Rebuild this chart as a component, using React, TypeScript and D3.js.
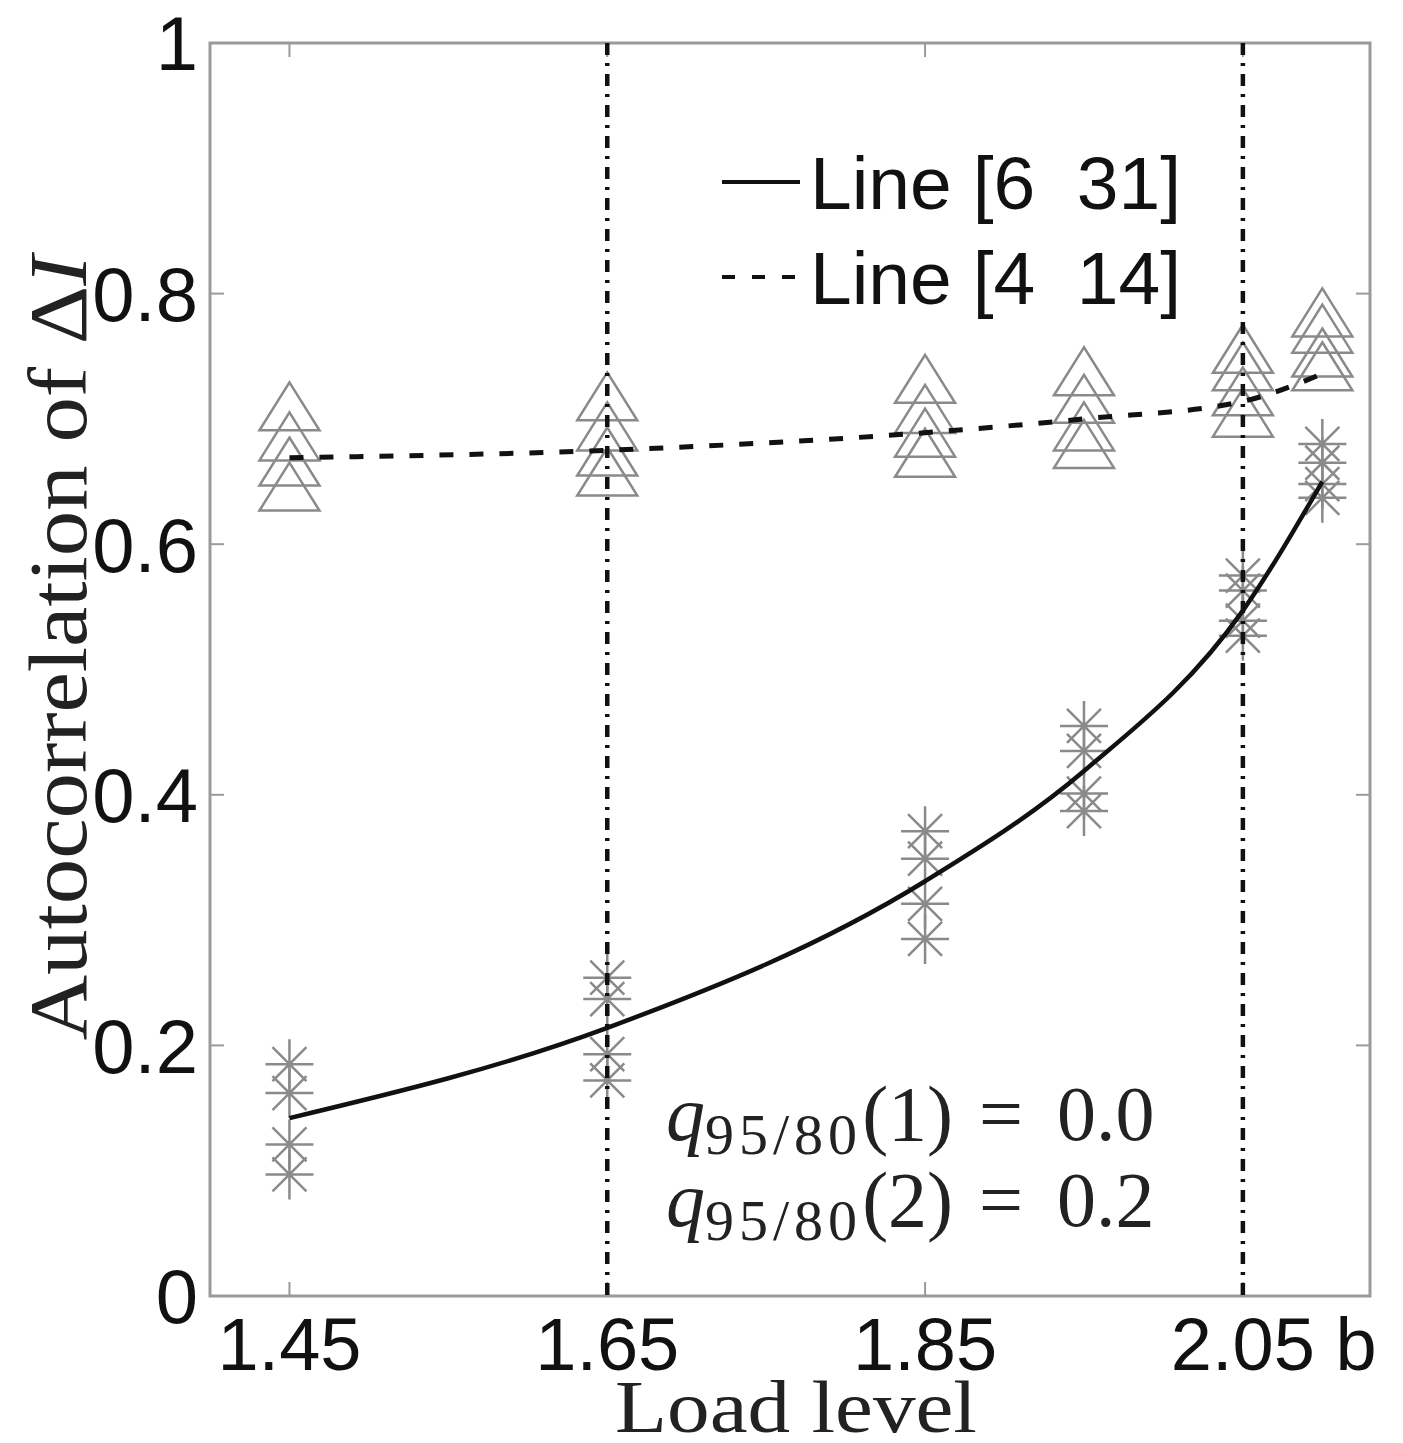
import React from 'react';
import * as d3 from 'd3';

// load levels where the runs were measured
const loadLevels = [1.45, 1.65, 1.85, 1.95, 2.05, 2.1];

// fitted autocorrelation curves
const line6_31 = [0.142, 0.214, 0.331, 0.419, 0.547, 0.65];
const line4_14 = [0.669, 0.675, 0.689, 0.7, 0.714, 0.736];

// individual runs (asterisks: Line [6 31], triangles: Line [4 14])
const starRuns = [
  [0.185, 0.162, 0.121, 0.097],
  [0.254, 0.237, 0.193, 0.172],
  [0.371, 0.349, 0.313, 0.285],
  [0.455, 0.435, 0.401, 0.387],
  [0.575, 0.563, 0.539, 0.527],
  [0.68, 0.665, 0.648, 0.637],
];
const triangleRuns = [
  [0.71, 0.686, 0.666, 0.646],
  [0.718, 0.694, 0.674, 0.658],
  [0.732, 0.708, 0.689, 0.673],
  [0.738, 0.716, 0.694, 0.68],
  [0.756, 0.742, 0.722, 0.705],
  [0.785, 0.772, 0.753, 0.742],
];

const xTicks = [1.45, 1.65, 1.85, 2.05];
const yTicks = [0, 0.2, 0.4, 0.6, 0.8, 1];
const markerLevels = [1.65, 2.05];
const legendLabels = ['Line [6  31]', 'Line [4  14]'];
const qValues = [
  { k: '1', v: '0.0' },
  { k: '2', v: '0.2' },
];

const W = 1403;
const H = 1443;
const frame = { left: 210, right: 1370, top: 43, bottom: 1296 };
const sans = '"Liberation Sans", Arial, Helvetica, sans-serif';
const serif = '"Liberation Serif", "Times New Roman", serif';
const markerGray = '#8a8a8a';
const frameGray = '#9a9a9a';

export default function App() {
  const x = d3.scaleLinear().domain([1.4, 2.13]).range([frame.left, frame.right]);
  const y = d3.scaleLinear().domain([0, 1]).range([frame.bottom, frame.top]);

  const curve = d3
    .line<number>()
    .x((_, i) => x(loadLevels[i]))
    .y(d => y(d))
    .curve(d3.curveMonotoneX);

  const tri = 'M0,-24 L30,24 L-30,24 Z';
  const star = 'M-24,0 L24,0 M0,-25 L0,25 M-17,-17 L17,17 M-17,17 L17,-17';

  const tickLen = 14;

  return (
    <svg
      width={W}
      height={H}
      style={{ position: 'absolute', left: 0, top: 0, background: '#fff' }}
    >
      {/* frame */}
      <rect
        x={frame.left}
        y={frame.top}
        width={frame.right - frame.left}
        height={frame.bottom - frame.top}
        fill="none"
        stroke={frameGray}
        strokeWidth={3}
      />

      {/* ticks */}
      {xTicks.map(t => (
        <g key={'xt' + t} stroke={frameGray} strokeWidth={2}>
          <line x1={x(t)} x2={x(t)} y1={frame.bottom} y2={frame.bottom - tickLen} />
          <line x1={x(t)} x2={x(t)} y1={frame.top} y2={frame.top + tickLen} />
        </g>
      ))}
      {yTicks.map(t => (
        <g key={'yt' + t} stroke={frameGray} strokeWidth={2}>
          <line x1={frame.left} x2={frame.left + tickLen} y1={y(t)} y2={y(t)} />
          <line x1={frame.right} x2={frame.right - tickLen} y1={y(t)} y2={y(t)} />
        </g>
      ))}

      {/* tick labels */}
      {yTicks.map(t => (
        <text
          key={'yl' + t}
          x={frame.left - 12}
          y={y(t)}
          dy="0.36em"
          textAnchor="end"
          fontFamily={sans}
          fontSize={76}
          fill="#111"
        >
          {d3.format('~g')(t)}
        </text>
      ))}
      {xTicks.map(t => (
        <text
          key={'xl' + t}
          x={x(t)}
          y={frame.bottom + 74}
          textAnchor="middle"
          fontFamily={sans}
          fontSize={74}
          fill="#111"
        >
          {d3.format('.2f')(t)}
        </text>
      ))}
      <text
        x={frame.right - 14}
        y={frame.bottom + 74}
        textAnchor="middle"
        fontFamily={sans}
        fontSize={74}
        fill="#111"
      >
        b
      </text>

      {/* axis labels */}
      <text
        x={(frame.left + frame.right) / 2 + 6}
        y={1432}
        textAnchor="middle"
        fontFamily={serif}
        fontSize={74}
        fill="#222"
        textLength={362}
        lengthAdjust="spacingAndGlyphs"
      >
        Load level
      </text>
      <text
        transform={`translate(86,${648}) rotate(-90)`}
        textAnchor="middle"
        fontFamily={serif}
        fontSize={82}
        fill="#222"
        textLength={785}
        lengthAdjust="spacingAndGlyphs"
      >
        Autocorrelation of Δ<tspan fontStyle="italic">I</tspan>
      </text>

      {/* individual runs */}
      {triangleRuns.map((run, i) =>
        run.map((v, j) => (
          <path
            key={`tr${i}-${j}`}
            d={tri}
            transform={`translate(${x(loadLevels[i])},${y(v)})`}
            fill="none"
            stroke={markerGray}
            strokeWidth={2.5}
          />
        ))
      )}
      {starRuns.map((run, i) =>
        run.map((v, j) => (
          <path
            key={`st${i}-${j}`}
            d={star}
            transform={`translate(${x(loadLevels[i])},${y(v)})`}
            fill="none"
            stroke={markerGray}
            strokeWidth={2.5}
          />
        ))
      )}

      {/* fitted curves */}
      <path d={curve(line6_31) ?? ''} fill="none" stroke="#111" strokeWidth={4.5} />
      <path
        d={curve(line4_14) ?? ''}
        fill="none"
        stroke="#111"
        strokeWidth={5}
        strokeDasharray="14,16"
      />

      {/* vertical reference lines */}
      {markerLevels.map(m => (
        <line
          key={'vm' + m}
          x1={x(m)}
          x2={x(m)}
          y1={frame.top}
          y2={frame.bottom}
          stroke="#111"
          strokeWidth={4.5}
          strokeDasharray="12,8,3,8"
        />
      ))}

      {/* legend */}
      {legendLabels.map((label, i) => (
        <g key={label} transform={`translate(722,${182 + i * 95})`}>
          <line
            x1={0}
            x2={78}
            y1={0}
            y2={0}
            stroke="#111"
            strokeWidth={4}
            strokeDasharray={i === 0 ? undefined : '13,17'}
          />
          <text
            x={88}
            y={0}
            dy="0.36em"
            fontFamily={sans}
            fontSize={75}
            fill="#111"
            style={{ whiteSpace: 'pre' }}
          >
            {label}
          </text>
        </g>
      ))}

      {/* annotation */}
      {qValues.map((q, i) => (
        <text
          key={'q' + q.k}
          x={666}
          y={1140 + i * 86}
          fontFamily={serif}
          fontSize={78}
          fill="#222"
        >
          <tspan fontStyle="italic">q</tspan>
          <tspan fontSize={58} dy={14} letterSpacing={5}>95/80</tspan>
          <tspan dy={-14}>({q.k})</tspan>
          <tspan dx={26}>=</tspan>
          <tspan dx={34}>{q.v}</tspan>
        </text>
      ))}
    </svg>
  );
}
